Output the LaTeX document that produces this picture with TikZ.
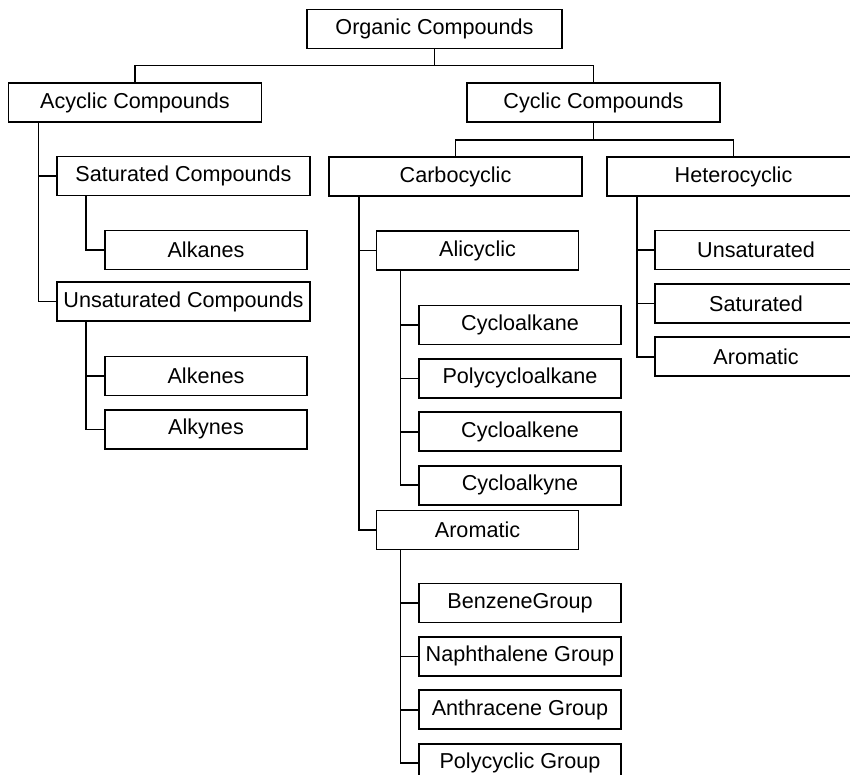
\documentclass[tikz,border=0pt]{standalone}
\usepackage{fontspec}
\setmainfont{Liberation Sans}
\usetikzlibrary{positioning,calc}

\begin{document}
\begin{tikzpicture}[
  x=0.5pt,y=-0.5pt,
  font=\fontsize{10.8}{13}\selectfont,
  node distance=6.25pt,
  box/.style={rectangle,draw=black,line width=0.95pt,minimum height=19.5pt,inner sep=0pt},
  wide/.style={box,minimum width=126.5pt},
  narrow/.style={box,minimum width=101pt},
  link/.style={draw=black,line width=0.9pt},
]
\clip (0,0) rectangle (850,775);
\fill[white] (0,0) rectangle (850,775);

% root and first level
\node[wide,minimum width=127.5pt] (org) at (434.5,29) {Organic Compounds};
\node[wide] (acy) at (135,102.5) {Acyclic Compounds};
\node[wide] (cyc) at (593.5,102.5) {Cyclic Compounds};

% acyclic branch
\node[wide] (sat) at (183.5,176) {Saturated Compounds};
\node[narrow] (alkanes) at (206,250) {Alkanes};
\node[wide] (unsat) at (183.5,301.5) {Unsaturated Compounds};
\node[narrow] (alkenes) at (206,376) {Alkenes};
\node[narrow,below=of alkenes] (alkynes) {Alkynes};

% cyclic branch
\node[wide] (carbo) at (455.5,176.5) {Carbocyclic};
\node[wide] (hetero) at (733.5,176.5) {Heterocyclic};

\node[narrow] (alicyc) at (477.5,250.5) {Alicyclic};
\node[narrow] (cane) at (520,325) {Cycloalkane};
\node[narrow,below=of cane] (pcane) {Polycycloalkane};
\node[narrow,below=of pcane] (cene) {Cycloalkene};
\node[narrow,below=of cene] (cyne) {Cycloalkyne};

\node[narrow] (arom) at (477.5,530) {Aromatic};
\node[narrow] (benz) at (520,603) {BenzeneGroup};
\node[narrow,below=of benz] (naph) {Naphthalene Group};
\node[narrow,below=of naph] (anth) {Anthracene Group};
\node[narrow,below=of anth] (pgrp) {Polycyclic Group};

\node[narrow] (hunsat) at (756,250) {Unsaturated};
\node[narrow,below=of hunsat] (hsat) {Saturated};
\node[narrow,below=of hsat] (harom) {Aromatic};

% connectors
\draw[link] (org.south) -- ++(0,16) coordinate (j0);
\draw[link] (acy.north) |- (j0) -| (cyc.north);
\draw[link] (cyc.south) -- ++(0,17) coordinate (j1);
\draw[link] (carbo.north) |- (j1) -| (hetero.north);

\foreach \p/\c/\d in {acy/sat/31,acy/unsat/31,sat/alkanes/30,unsat/alkenes/30,unsat/alkynes/30,
    carbo/alicyc/31,carbo/arom/31,alicyc/cane/25,alicyc/pcane/25,alicyc/cene/25,alicyc/cyne/25,
    arom/benz/25,arom/naph/25,arom/anth/25,arom/pgrp/25,
    hetero/hunsat/31,hetero/hsat/31,hetero/harom/31}
  \draw[link] ($(\p.south west)+(\d,0)$) |- (\c.west);
\end{tikzpicture}
\end{document}
